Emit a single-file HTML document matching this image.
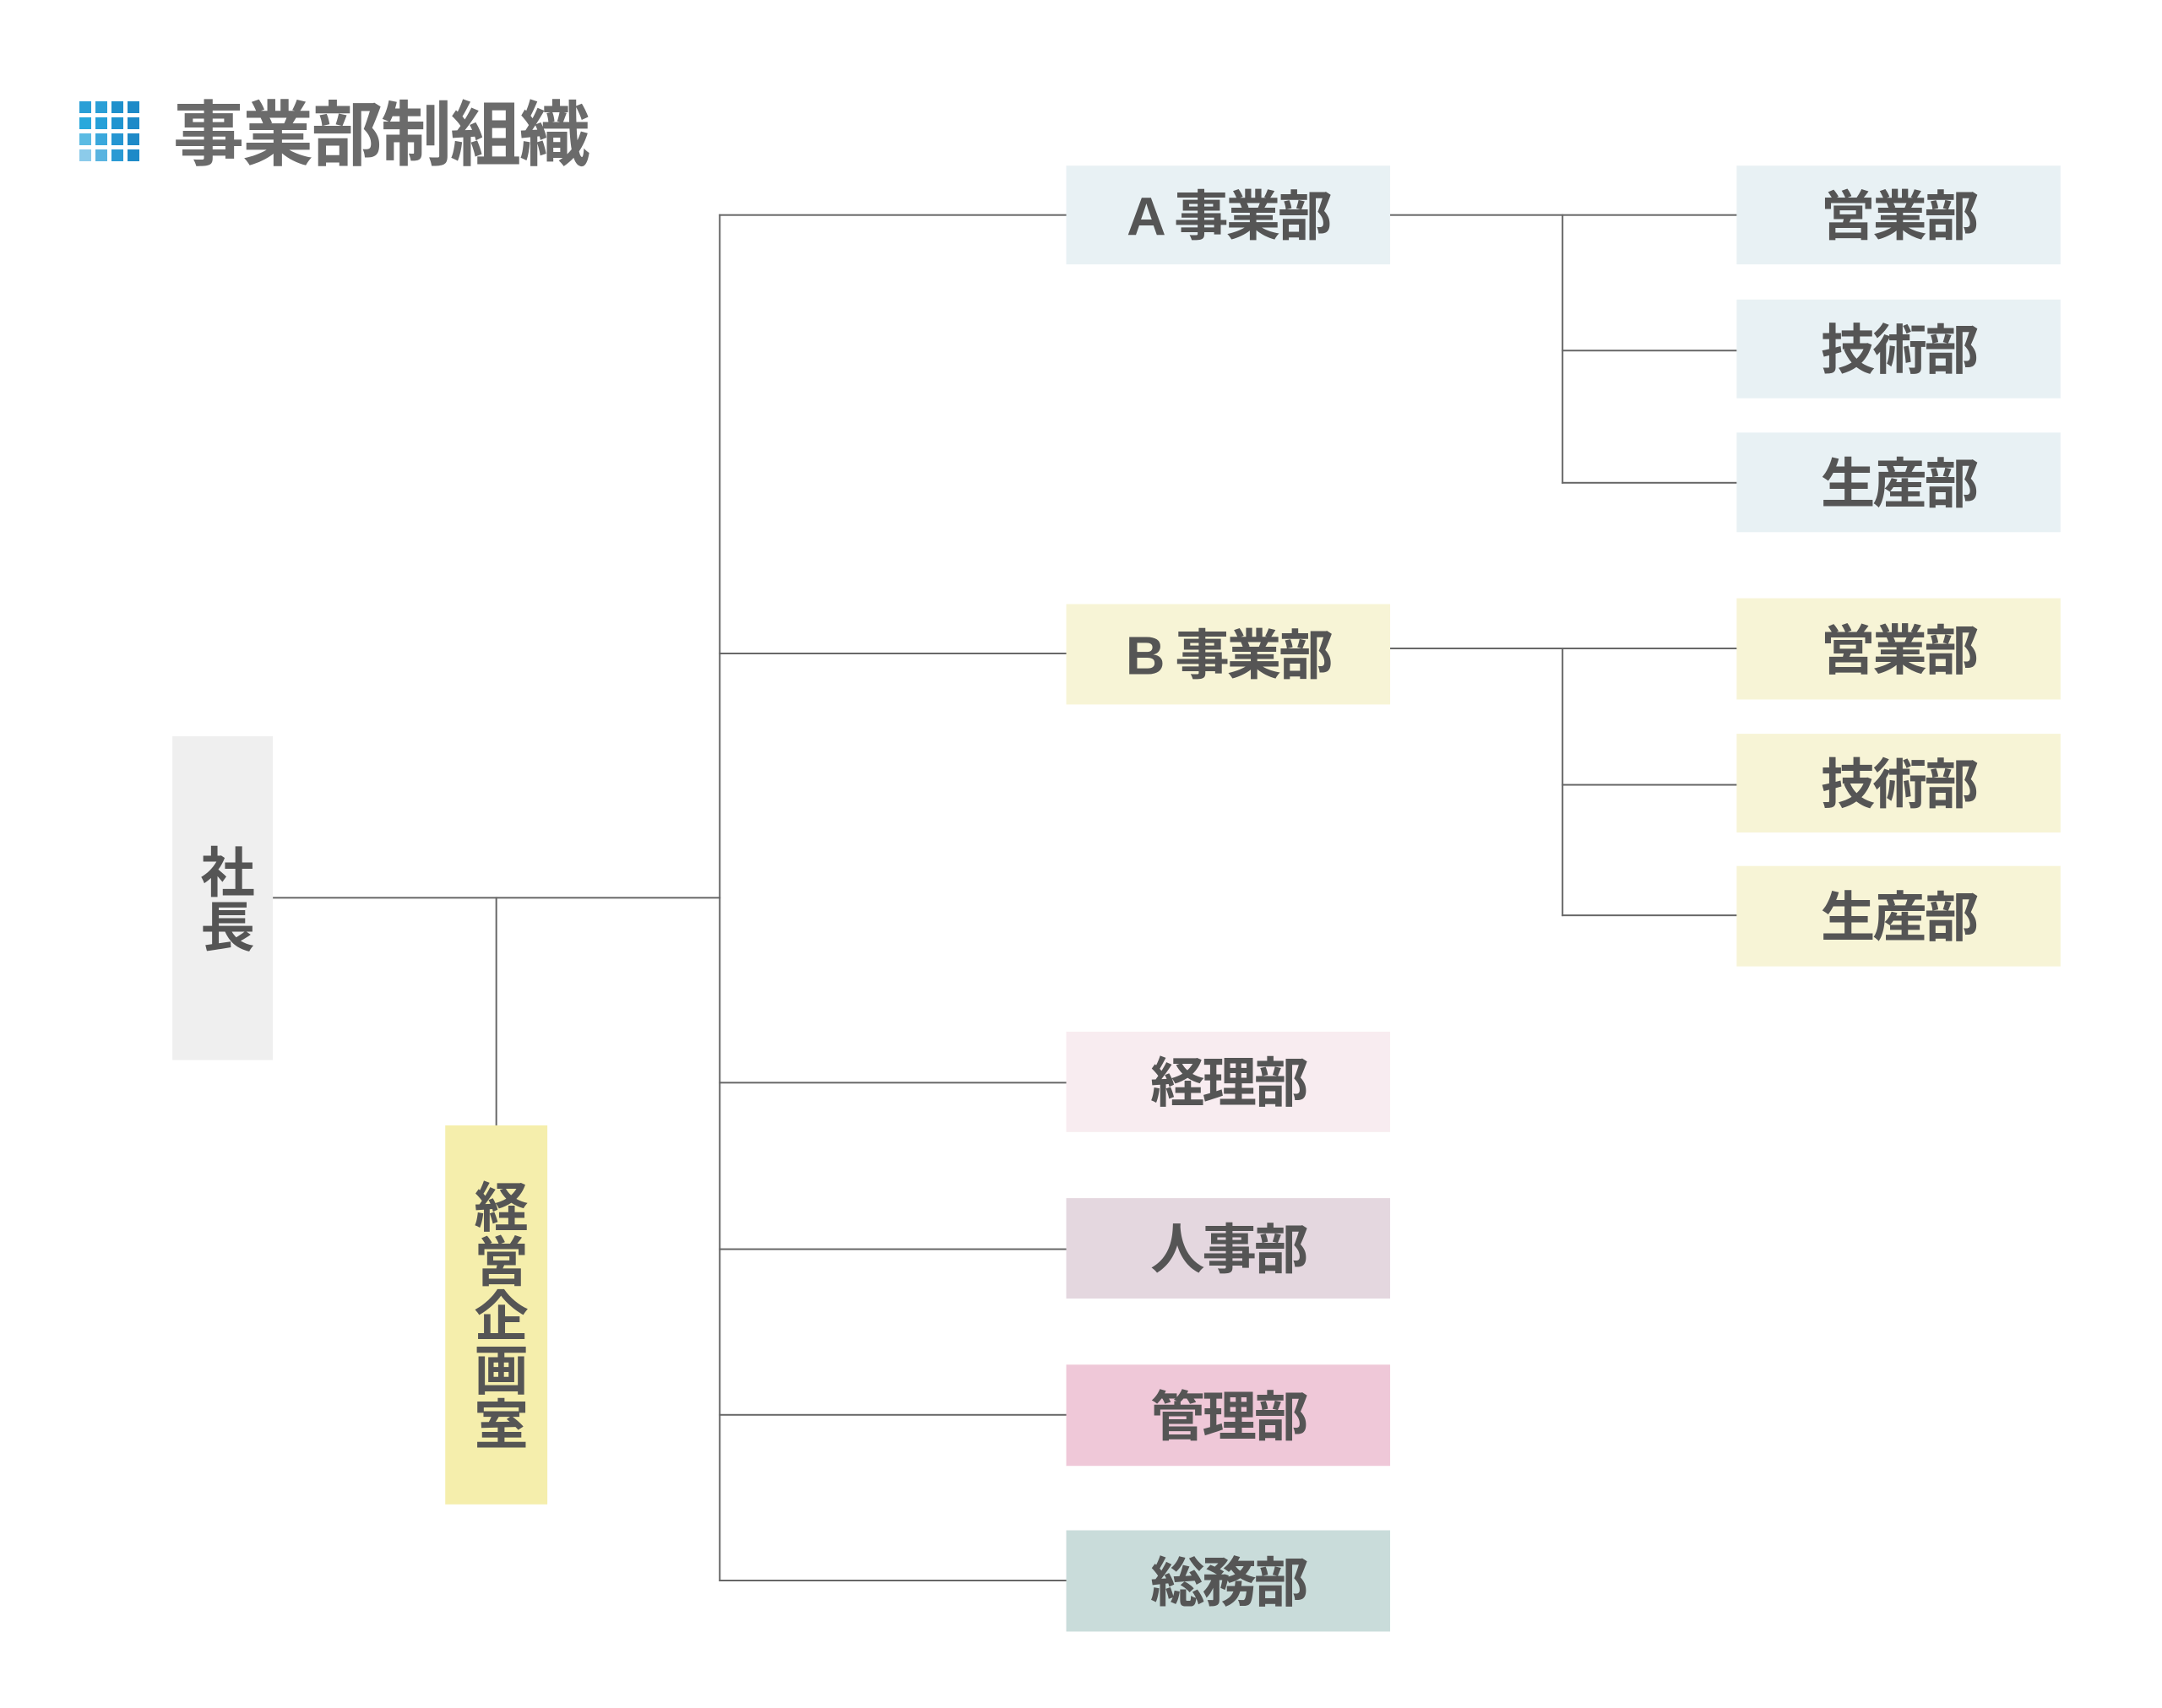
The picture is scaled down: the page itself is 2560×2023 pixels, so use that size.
<!DOCTYPE html>
<html><head><meta charset="utf-8"><style>
html,body{margin:0;padding:0;background:#fff;}
body{width:2560px;height:2023px;position:relative;overflow:hidden;font-family:"Liberation Sans","Noto Sans CJK JP",sans-serif;color:#555;}
#c{position:absolute;left:0;top:0;width:2560px;height:2023px;transform:scale(0.991);transform-origin:0 0;}
.b{position:absolute;display:flex;align-items:center;justify-content:center;font-size:65px;letter-spacing:-3px;font-weight:bold;padding-bottom:8px;box-sizing:border-box;}
.v{writing-mode:vertical-rl;letter-spacing:0;padding-bottom:0;}
.l{position:absolute;background:#666;}
.h{height:2px;}
.w{width:2px;}
</style></head><body>
<svg style="position:absolute;left:94px;top:120px" width="76" height="76">
<rect x="0" y="0" width="14" height="14" fill="#2a9fd6"/><rect x="19" y="0" width="14" height="14" fill="#2a9fd6"/><rect x="38" y="0" width="14" height="14" fill="#1e90cc"/><rect x="57" y="0" width="14" height="14" fill="#1e8ac8"/>
<rect x="0" y="19" width="14" height="14" fill="#29a8dc"/><rect x="19" y="19" width="14" height="14" fill="#25a0d8"/><rect x="38" y="19" width="14" height="14" fill="#1f94d0"/><rect x="57" y="19" width="14" height="14" fill="#1e8ac8"/>
<rect x="0" y="38" width="14" height="14" fill="#5bbbe3"/><rect x="19" y="38" width="14" height="14" fill="#3aa8dc"/><rect x="38" y="38" width="14" height="14" fill="#2596d2"/><rect x="57" y="38" width="14" height="14" fill="#1e8ac8"/>
<rect x="0" y="57" width="14" height="14" fill="#8ccbea"/><rect x="19" y="57" width="14" height="14" fill="#5ab4e0"/><rect x="38" y="57" width="14" height="14" fill="#2a9ad4"/><rect x="57" y="57" width="14" height="14" fill="#1e8ac8"/>
</svg>
<div style="position:absolute;left:205px;top:110px;font-size:84px;line-height:100px;color:#6b6b6b;letter-spacing:-2px;font-weight:bold;">事業部制組織</div>
<div id="c">
<div class="l h" style="left:326px;top:1072px;width:535px;"></div>
<div class="l w" style="left:592px;top:1072px;height:274px;"></div>
<div class="l w" style="left:859px;top:256px;height:1634px;"></div>
<div class="l h" style="left:859px;top:256px;width:416px;"></div>
<div class="l h" style="left:859px;top:780px;width:416px;"></div>
<div class="l h" style="left:859px;top:1293px;width:416px;"></div>
<div class="l h" style="left:859px;top:1492px;width:416px;"></div>
<div class="l h" style="left:859px;top:1690px;width:416px;"></div>
<div class="l h" style="left:859px;top:1888px;width:416px;"></div>
<div class="l h" style="left:1660px;top:256px;width:416px;"></div>
<div class="l w" style="left:1866px;top:256px;height:322px;"></div>
<div class="l h" style="left:1866px;top:418px;width:210px;"></div>
<div class="l h" style="left:1866px;top:576px;width:210px;"></div>
<div class="l h" style="left:1660px;top:774px;width:416px;"></div>
<div class="l w" style="left:1866px;top:774px;height:321px;"></div>
<div class="l h" style="left:1866px;top:937px;width:210px;"></div>
<div class="l h" style="left:1866px;top:1093px;width:210px;"></div>

<div class="b v" style="left:206px;top:880px;width:120px;height:387px;background:#efefef;">社長</div>
<div class="b v" style="left:532px;top:1345px;width:122px;height:453px;background:#f5eeac;">経営企画室</div>
<div class="b" style="left:1274px;top:198px;width:387px;height:118px;background:#e8f1f4;">A 事業部</div>
<div class="b" style="left:1274px;top:722px;width:387px;height:120px;background:#f7f4d6;">B 事業部</div>
<div class="b" style="left:1274px;top:1233px;width:387px;height:120px;background:#f8ecf0;">経理部</div>
<div class="b" style="left:1274px;top:1432px;width:387px;height:120px;background:#e4d7df;">人事部</div>
<div class="b" style="left:1274px;top:1631px;width:387px;height:121px;background:#efc8d8;">管理部</div>
<div class="b" style="left:1274px;top:1829px;width:387px;height:121px;background:#c9dcda;">総務部</div>
<div class="b" style="left:2075px;top:198px;width:387px;height:118px;background:#e8f1f4;">営業部</div>
<div class="b" style="left:2075px;top:358px;width:387px;height:118px;background:#e8f1f4;">技術部</div>
<div class="b" style="left:2075px;top:517px;width:387px;height:119px;background:#e8f1f4;">生産部</div>
<div class="b" style="left:2075px;top:715px;width:387px;height:121px;background:#f7f4d6;">営業部</div>
<div class="b" style="left:2075px;top:877px;width:387px;height:118px;background:#f7f4d6;">技術部</div>
<div class="b" style="left:2075px;top:1035px;width:387px;height:120px;background:#f7f4d6;">生産部</div>
</div>
</body></html>
